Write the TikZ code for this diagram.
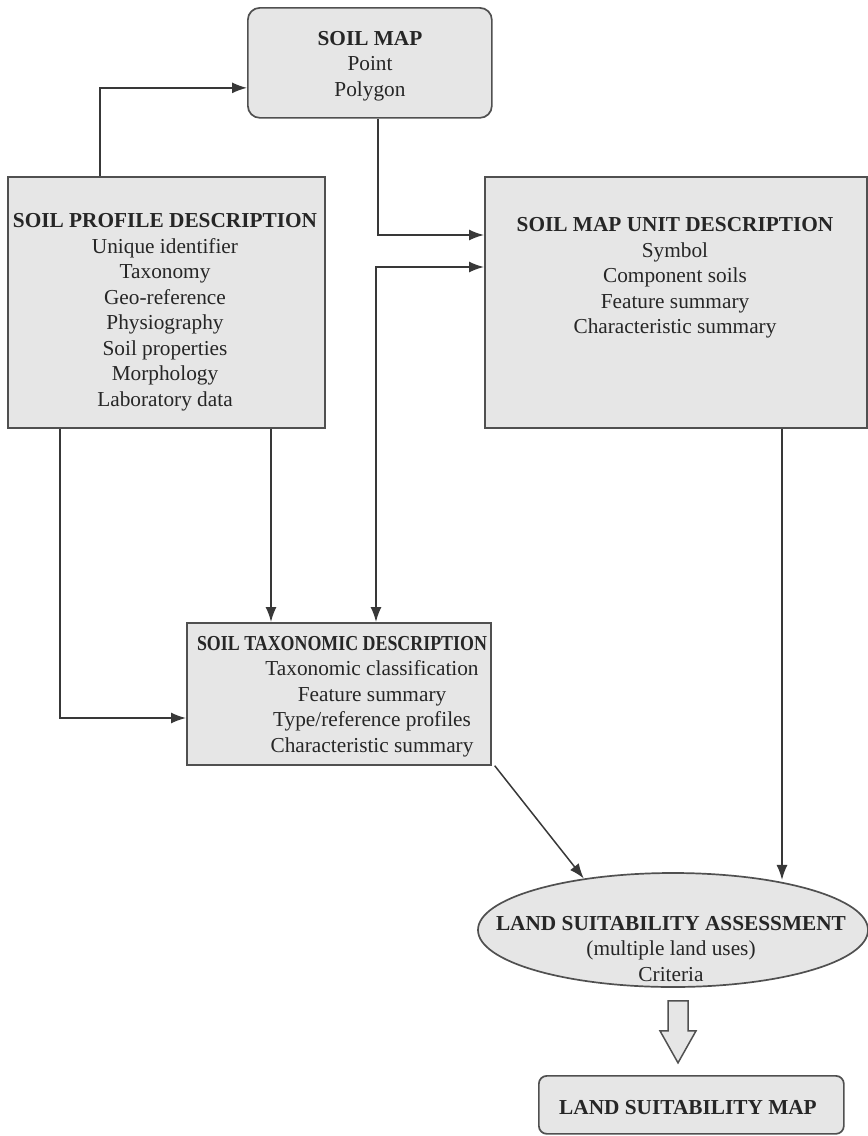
\documentclass[tikz,border=0pt]{standalone}
\usepackage{fontspec}
\setmainfont{Liberation Serif}
\usetikzlibrary{arrows.meta,calc,shapes.geometric}
\definecolor{boxfill}{HTML}{E6E6E6}
\definecolor{boxdraw}{HTML}{505050}
\definecolor{ink}{HTML}{262626}
\definecolor{linec}{HTML}{383838}
\begin{document}
\begin{tikzpicture}[x=1pt,y=-1pt,
  box/.style={draw=boxdraw,fill=boxfill,line width=1.7pt,inner sep=0pt,anchor=north west},
  txt/.style={align=center,text=ink,font=\fontsize{21.3}{25.5}\selectfont,inner sep=0pt},
  arr/.style={draw=linec,line width=1.5pt,-{Latex[length=15pt,width=11pt]}},
  darr/.style={draw=linec,line width=1.5pt,{Latex[length=15pt,width=11pt]}-{Latex[length=15pt,width=11pt]}},
]
\useasboundingbox (0,0) rectangle (868,1136);

% boxes
\node[box,rounded corners=12pt,minimum width=244pt,minimum height=110pt] (sm) at (247,7) {};
\node[box,minimum width=317pt,minimum height=251pt] (pd) at (7,176) {};
\node[box,minimum width=382pt,minimum height=251pt] (mu) at (484,176) {};
\node[box,minimum width=304pt,minimum height=142pt] (td) at (186,622) {};
\node[draw=boxdraw,fill=boxfill,line width=1.7pt,ellipse,inner sep=0pt,minimum width=390pt,minimum height=114pt] (ls) at (673,930) {};
\node[box,rounded corners=8pt,minimum width=305pt,minimum height=58pt] (lm) at (538,1075) {};

% texts
\node[txt] (smt) at (370,66) {\textbf{SOIL MAP}\\Point\\Polygon};
\node[txt] (pdt) at (165,312) {\textbf{SOIL PROFILE DESCRIPTION}\\Unique identifier\\Taxonomy\\Geo-reference\\Physiography\\Soil properties\\Morphology\\Laboratory data};
\node[txt] (mut) at (675,278) {\textbf{SOIL MAP UNIT DESCRIPTION}\\Symbol\\Component soils\\Feature summary\\Characteristic summary};
\node[txt,anchor=base] (tdh) at (342,650) {\scalebox{0.84}[1]{\textbf{SOIL TAXONOMIC DESCRIPTION}}};
\node[txt] (tdt) at (372,709) {Taxonomic classification\\Feature summary\\Type/reference profiles\\Characteristic summary};
\node[txt] (lst) at (671,949) {\textbf{LAND SUITABILITY ASSESSMENT}\\(multiple land uses)\\Criteria};
\node[txt] (lmt) at (688,1108) {\textbf{LAND SUITABILITY MAP}};

% connectors
\draw[arr] ($(pd.north west)+(93,0)$) |- ($(sm.west)+(0,25)$);
\draw[arr] ($(sm.south west)+(131,0)$) |- ($(mu.north west)+(0,59)$);
\draw[darr] ($(td.north west)+(190,0)$) |- ($(mu.north west)+(0,91)$);
\draw[arr] ($(pd.south west)+(264,0)$) -- ($(td.north west)+(85,0)$);
\draw[arr] ($(pd.south west)+(53,0)$) |- ($(td.north west)+(0,96)$);
\draw[arr] ($(td.south east)+(3,0)$) -- (ls.150);
\coordinate (mub) at ($(mu.south west)+(298,0)$);
\draw[arr] (mub) -- (mub |- ls.27);

% hollow arrow
\draw[draw=boxdraw,fill=boxfill,line width=1.5pt,line join=miter]
  ($(ls.south)+(-5,13)$) -- ++(0,30) -- ++(-8,0) -- ++(18,32) -- ++(18,-32) -- ++(-8,0) -- ++(0,-30) -- cycle;
\end{tikzpicture}
\end{document}
